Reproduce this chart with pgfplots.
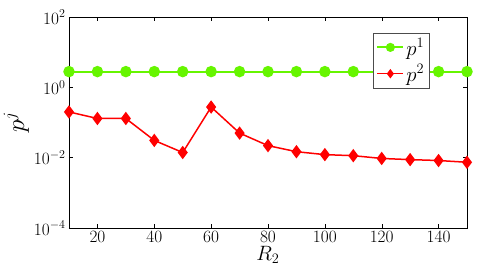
\documentclass[border=0pt]{standalone}
\usepackage{pgfplots}
\pgfplotsset{compat=1.18}
\definecolor{pgreen}{RGB}{102,245,0}
\begin{document}
\begin{tikzpicture}
\begin{axis}[
  at={(0pt,0pt)}, anchor=south west,
  scale only axis, width=398pt, height=211pt,
  xmin=10, xmax=150, ymode=log, ymin=1e-4, ymax=1e2,
  xtick={20,40,...,140},
  ytick={1e-4,1e-2,1,1e2},
  minor ytick={}, yminorticks=false,
  tick align=inside, major tick length=4pt,
  tick style={black, line width=0.4pt},
  axis line style={line width=0.6pt},
  ticklabel style={font=\fontsize{18.5}{20}\selectfont},
  xlabel={$R_2$}, ylabel={$p^j$},
  xlabel style={font=\fontsize{22}{24}\selectfont, yshift=3pt},
  ylabel style={font=\fontsize{24}{26}\selectfont, yshift=-2pt},
  legend style={at={(axis cs:117,35)}, anchor=north west, draw=black!70, font=\fontsize{22}{24}\selectfont, row sep=4pt, inner sep=3pt},
  legend cell align=left,
  legend image code/.code={\draw[mark repeat=2,mark phase=2,#1,mark size=3.5pt] plot coordinates {(0pt,0pt)(13pt,0pt)(26pt,0pt)};},
]
\addplot[color=pgreen, line width=2pt, mark=*, mark size=4.7pt, mark options={solid, fill=pgreen, draw=pgreen}] coordinates {
(10,2.8)(20,2.8)(30,2.8)(40,2.8)(50,2.8)(60,2.8)(70,2.8)(80,2.8)(90,2.8)(100,2.8)(110,2.8)(120,2.8)(130,2.8)(140,2.8)(150,2.8)};
\addlegendentry{$p^1$}
\addplot[color=red, line width=1.5pt, mark=diamond*, mark size=5.5pt, mark options={solid, fill=red, draw=red}] coordinates {
(10,0.2)(20,0.13)(30,0.13)(40,0.031)(50,0.014)(60,0.275)(70,0.05)(80,0.022)(90,0.0148)(100,0.0122)(110,0.0114)(120,0.0095)(130,0.0088)(140,0.0083)(150,0.0074)};
\addlegendentry{$p^2$}
\end{axis}
\path[use as bounding box] (-69pt,-49pt) rectangle (416pt,228pt);
\end{tikzpicture}
\end{document}
